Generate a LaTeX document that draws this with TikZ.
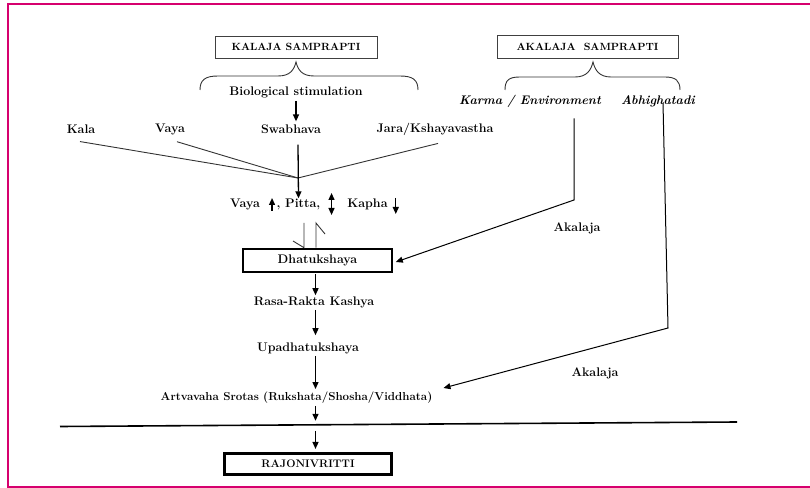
\documentclass[tikz,border=0pt]{standalone}
\usetikzlibrary{arrows.meta,calc}
\definecolor{framecol}{RGB}{214,0,110}
\begin{document}
\begin{tikzpicture}[x=1bp,y=-1bp,
  txt/.style={font=\fontsize{12.5}{14}\selectfont\bfseries, inner sep=0pt},
  itx/.style={font=\fontsize{12.5}{14}\selectfont\bfseries\itshape, inner sep=0pt},
  titlebox/.style={draw=black!75, line width=0.9bp, font=\fontsize{10.5}{12}\selectfont\bfseries, inner sep=0pt},
  thickbox/.style={draw, line width=2.6bp, font=\fontsize{11}{13}\selectfont\bfseries, inner sep=0pt},
  arr/.style={-{Triangle[length=7bp,width=6bp]}, line width=1.3bp},
  dblarr/.style={{Triangle[length=7bp,width=6bp]}-{Triangle[length=7bp,width=6bp]}, line width=1.3bp},
  ln/.style={line width=0.9bp, draw=black!80}]
\useasboundingbox (0,0) rectangle (810,488);
\clip (0,0) rectangle (810,488);
% frame
\draw[framecol, line width=2.2bp] (8,4.3) rectangle (820,487);

% title boxes
\node[titlebox, minimum width=162bp, minimum height=22bp] (kbox) at (296,47) {KALAJA SAMPRAPTI};
\node[titlebox, minimum width=181bp, minimum height=23bp] (abox) at (587.5,46.5) {AKALAJA\ \ SAMPRAPTI};

% braces
\draw[ln] (200,90) .. controls (200,80) and (205,76) .. (218,76) -- (278,76)
  .. controls (290,76) and (294,70) .. (296,62)
  .. controls (298,70) and (302,76) .. (314,76) -- (400,76)
  .. controls (413,76) and (418,80) .. (418,90);
\draw[ln] (505,90) .. controls (505,80) and (509,77) .. (520,77) -- (575,77)
  .. controls (587,77) and (591,70) .. (593,62)
  .. controls (595,70) and (599,77) .. (611,77) -- (665,77)
  .. controls (676,77) and (680,81) .. (680,90);

% top texts
\node[txt] (bio) at (296,92) {Biological stimulation};
\node[itx] (karma) at (530,101) {Karma / Environment};
\node[itx] (abhi) at (658,101) {Abhighatadi};

\node[txt] (kala) at (81,129) {Kala};
\node[txt] (vaya1) at (170,129) {Vaya};
\node[txt] (swab) at (291,129) {Swabhava};
\node[txt] (jara) at (435,129) {Jara/Kshayavastha};

\draw[arr] ($(bio.south)+(0,3)$) -- ($(swab.north)+(5,-3)$);

\coordinate (conv) at (298,178);
\draw[ln] ($(kala.south)+(-1,8)$) -- (conv);
\draw[ln] ($(vaya1.south)+(7,7)$) -- (conv);
\draw[ln] ($(jara.south)+(3,8)$) -- (conv);

% dosha row
\node[txt] (vaya2) at (245,204) {Vaya};
\node[txt] (pitta) at (298.5,204) {, Pitta,};
\node[txt] (kapha) at (367.5,204) {Kapha};
\draw[arr] ($(swab.south)+(7,11)$) -- (pitta.north);
\draw[arr] ($(vaya2.east)+(12,7)$) -- ($(vaya2.east)+(12,-6)$);
\draw[dblarr] ($(pitta.east)+(11,-11)$) -- ($(pitta.east)+(11,11)$);
\draw[arr] ($(kapha.east)+(8,-6)$) -- ($(kapha.east)+(8,10)$);

% Dhatukshaya
\node[thickbox, font=\fontsize{12.5}{14}\selectfont\bfseries, minimum width=149bp, minimum height=23bp] (dhatu) at (317.5,260.5) {Dhatukshaya};
\coordinate (p1) at (304,223);
\coordinate (p2) at (316,223);
\draw[ln] (293,241) -- (p1 |- dhatu.north) -- (p1);
\draw[ln] (p2 |- dhatu.north) -- (p2) -- (325,234);

% spine
\coordinate (ax) at (315.5,0);
\node[txt] (rasa) at (314,302) {Rasa-Rakta Kashya};
\node[txt] (upa) at (308,348) {Upadhatukshaya};
\node[txt, font=\fontsize{11.6}{14}\selectfont\bfseries] (art) at (296.5,398) {Artvavaha Srotas (Rukshata/Shosha/Viddhata)};
\node[thickbox, minimum width=167.5bp, minimum height=21.5bp] (raj) at (308,464) {RAJONIVRITTI};

\draw[arr, shorten <=1bp, shorten >=1bp] (dhatu.south -| ax) -- (rasa.north -| ax);
\draw[arr, shorten <=2bp, shorten >=7bp] (rasa.south -| ax) -- (upa.north -| ax);
\draw[arr, shorten <=2bp, shorten >=3bp] (upa.south -| ax) -- (art.north -| ax);

\coordinate (hl1) at (60,426.5);
\coordinate (hl2) at (737,422);
\draw[line width=1.6bp] (hl1) -- (hl2);
\coordinate (hx) at (315.5,424.8);
\draw[arr, shorten <=2bp, shorten >=4bp] (art.south -| ax) -- (hx);
\draw[arr, shorten <=6bp, shorten >=3bp] (hx) -- (raj.north -| ax);

% Akalaja connectors
\coordinate (k1) at (574,200);
\draw[arr, line width=1bp] ($(karma.south)+(44,11)$) -- (k1) -- ($(dhatu.east)+(2.5,1.5)$);
\coordinate (a1) at (668,328);
\draw[arr, line width=1bp] ($(abhi.south)+(5,-4)$) -- (a1) -- ($(art.east)+(11,-10)$);

\node[txt] (ak1) at (577,228) {Akalaja};
\node[txt] (ak2) at (595,373) {Akalaja};
\end{tikzpicture}
\end{document}
